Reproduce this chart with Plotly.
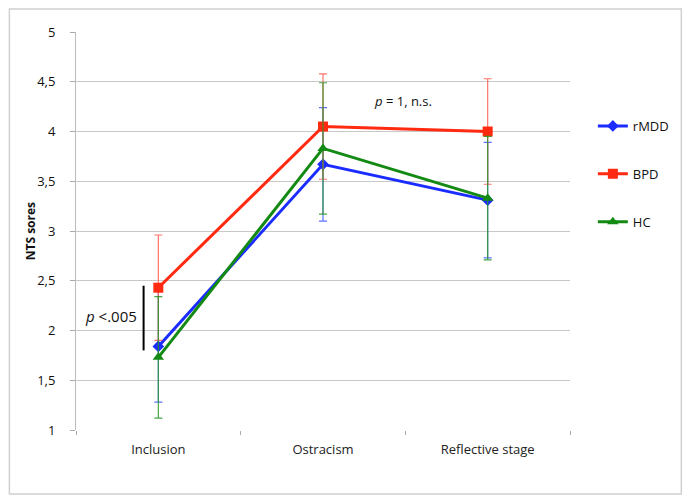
import plotly.graph_objects as go

categories = ["Inclusion", "Ostracism", "Reflective stage"]
rmdd = [1.84, 3.67, 3.31]
rmdd_err = [0.56, 0.57, 0.58]
bpd = [2.43, 4.05, 4.00]
bpd_err = [0.53, 0.53, 0.53]
hc = [1.73, 3.83, 3.33]
hc_err = [0.61, 0.66, 0.62]
ytick_vals = [1, 1.5, 2, 2.5, 3, 3.5, 4, 4.5, 5]
ytick_text = ["1", "1,5", "2", "2,5", "3", "3,5", "4", "4,5", "5"]

font = "Open Sans"

# page has an 8px body margin; figure is sized/offset to compensate
W, H = 678, 487
L, T = 68, 24
PR, PB = 565, 422  # plot right / bottom in figure px

def tr(name, y, err, color, errcolor, symbol, size):
    return go.Scatter(
        x=categories, y=y, name=name, mode="lines+markers",
        line=dict(color=color, width=3),
        marker=dict(symbol=symbol, size=size, color=color),
        error_y=dict(type="data", array=err, visible=True, color=errcolor,
                     thickness=1.2, width=4),
        legendgroup=name,
    )

fig = go.Figure()
fig.add_trace(tr("rMDD", rmdd, rmdd_err, "#1a2cff", "rgba(60,90,255,0.85)", "diamond", 9))
fig.add_trace(tr("BPD", bpd, bpd_err, "#ff2a10", "rgba(255,90,80,0.85)", "square", 10))
fig.add_trace(tr("HC", hc, hc_err, "#138a13", "rgba(40,150,40,0.85)", "triangle-up", 10))

pw = PR - L
ph = PB - T

def px(xp):  # page x -> paper
    return (xp - 8 - L) / pw

def py(yp):  # page y -> paper
    return (PB - (yp - 8)) / ph

fig.update_layout(
    width=W, height=H,
    margin=dict(l=L, r=W - PR, t=T, b=H - PB),
    paper_bgcolor="white", plot_bgcolor="white",
    font=dict(family=font, size=12, color="#111"),
    showlegend=True,
    legend=dict(x=px(596), y=py(111), xanchor="left", yanchor="top",
                tracegroupgap=28, font=dict(size=13, color="#111"),
                itemwidth=30, bgcolor="rgba(0,0,0,0)"),
    xaxis=dict(type="category", range=[-0.5, 2.5], showgrid=False, showline=False,
               ticks="outside", tickson="boundaries", ticklen=4, tickcolor="#aaa",
               tickfont=dict(size=13, color="#222"), zeroline=False,
               ticklabelstandoff=10),
    yaxis=dict(range=[1, 5], tickvals=ytick_vals, ticktext=ytick_text,
               showgrid=True, gridcolor="#c8c8c8", gridwidth=1,
               showline=True, linecolor="#bbb", linewidth=1,
               ticks="outside", ticklen=5, tickcolor="#aaa",
               tickfont=dict(size=13, color="#111"), zeroline=False,
               ticklabelstandoff=12),
)

# y-axis title
fig.add_annotation(xref="paper", yref="y", x=px(30), y=3.0, textangle=-90,
                   text="<b>NTS sores</b>", showarrow=False,
                   xanchor="center", yanchor="middle",
                   font=dict(size=12, color="#111"))

# outer border
fig.add_shape(type="rect", xref="paper", yref="paper",
              x0=(1 - L) / pw, x1=(W - 1 - L) / pw,
              y0=(PB - (H - 1)) / ph, y1=(PB - 1) / ph,
              line=dict(color="#d0d0d0", width=1.5), fillcolor="rgba(0,0,0,0)",
              layer="below")

# significance bar
fig.add_shape(type="line", xref="paper", yref="y",
              x0=px(144), x1=px(144), y0=1.80, y1=2.45,
              line=dict(color="black", width=2))
fig.add_annotation(xref="paper", yref="y", x=px(139), y=2.15,
                   text="<i>p</i> <.005", showarrow=False, xanchor="right",
                   font=dict(size=15, color="#111"))
fig.add_annotation(xref="paper", yref="y", x=px(405), y=4.31,
                   text="<i>p</i> = 1, n.s.", showarrow=False, xanchor="center",
                   font=dict(size=13, color="#111"))

fig.write_html("out.html")
